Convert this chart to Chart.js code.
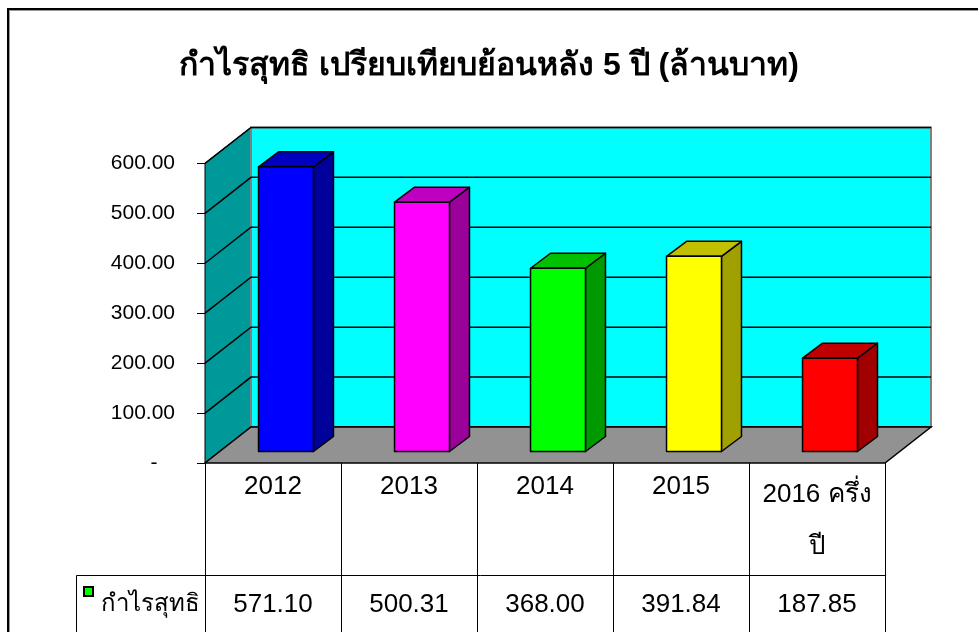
<!DOCTYPE html>
<html>
<head>
<meta charset="utf-8">
<script src="https://cdn.jsdelivr.net/npm/chart.js@4"></script>
<style>
  html, body { margin: 0; padding: 0; background: #fff; }
  #wrap { width: 978px; height: 632px; }
</style>
</head>
<body>
<div id="wrap"><canvas id="myChart"></canvas></div>
<script>
const years = ['2012', '2013', '2014', '2015', '2016 ครึ่งปี'];
const yearLines = [['2012'], ['2013'], ['2014'], ['2015'], ['2016 ครึ่ง', 'ปี']];
const profit = [571.10, 500.31, 368.00, 391.84, 187.85];
const seriesName = 'กำไรสุทธิ';
const titleText = 'กำไรสุทธิ เปรียบเทียบย้อนหลัง 5 ปี (ล้านบาท)';
const frontColors = ['#0000ff', '#ff00ff', '#00ff00', '#ffff00', '#ff0000'];
const topColors = ['#0000c0', '#c000c0', '#00c000', '#c0c000', '#c00000'];
const sideColors = ['#00009a', '#9a009a', '#009a00', '#a0a000', '#a00000'];

const FONT = 'Liberation Sans, Arial, DejaVu Sans, sans-serif';
// wall depth and bar placement inside it
const DX = 46, DY = 36;
const BX = 13, BY = 11;
const BDX = 20, BDY = 15;

function poly(ctx, pts, fill, stroke, lw) {
  ctx.beginPath();
  ctx.moveTo(pts[0][0], pts[0][1]);
  for (let i = 1; i < pts.length; i++) ctx.lineTo(pts[i][0], pts[i][1]);
  ctx.closePath();
  if (fill) { ctx.fillStyle = fill; ctx.fill(); }
  if (stroke) { ctx.strokeStyle = stroke; ctx.lineWidth = lw || 1; ctx.stroke(); }
}

const frame = {
  id: 'frame',
  beforeDraw(chart) {
    const ctx = chart.ctx;
    ctx.save();
    ctx.fillStyle = '#fff';
    ctx.fillRect(0, 0, chart.width, chart.height);
    ctx.fillStyle = '#000';
    ctx.fillRect(7, 8, chart.width - 7, 2);
    ctx.fillRect(7, 8, 2, chart.height - 8);
    ctx.fillStyle = '#999';
    ctx.fillRect(9, 10, chart.width - 9, 1);
    ctx.fillRect(9, 10, 1, chart.height - 10);
    ctx.restore();
  }
};

const walls = {
  id: 'walls',
  beforeDatasetsDraw(chart) {
    const {ctx, chartArea: a, scales: {y}} = chart;
    ctx.save();
    // side wall
    poly(ctx, [[a.left, a.top], [a.left + DX, a.top - DY], [a.left + DX, a.bottom - DY], [a.left, a.bottom]], '#009999', '#000', 1);
    // back wall
    poly(ctx, [[a.left + DX, a.top - DY], [a.right + DX, a.top - DY], [a.right + DX, a.bottom - DY], [a.left + DX, a.bottom - DY]], '#00ffff', '#808080', 2);
    // gridlines
    ctx.strokeStyle = '#000';
    ctx.lineWidth = 1.5;
    y.ticks.forEach(t => {
      const py = y.getPixelForValue(t.value);
      ctx.beginPath();
      ctx.moveTo(a.left, py);
      ctx.lineTo(a.left + DX, py - DY);
      ctx.lineTo(a.right + DX, py - DY);
      ctx.stroke();
    });
    // floor
    poly(ctx, [[a.left, a.bottom], [a.left + DX, a.bottom - DY], [a.right + DX, a.bottom - DY], [a.right, a.bottom]], '#929292', '#000', 1.5);
    ctx.restore();
  },
  afterDatasetsDraw(chart) {
    const ctx = chart.ctx;
    const meta = chart.getDatasetMeta(0);
    ctx.save();
    ctx.lineJoin = 'round';
    meta.data.forEach((el, i) => {
      const p = el.getProps(['x', 'y', 'base', 'width'], true);
      const l = p.x - p.width / 2 + BX, r = l + p.width;
      const t = p.y - BY, b = p.base - BY;
      poly(ctx, [[r, t], [r + BDX, t - BDY], [r + BDX, b - BDY], [r, b]], sideColors[i], '#000', 1.5);
      poly(ctx, [[l, t], [l + BDX, t - BDY], [r + BDX, t - BDY], [r, t]], topColors[i], '#000', 1.5);
      poly(ctx, [[l, t], [r, t], [r, b], [l, b]], frontColors[i], '#000', 1.5);
    });
    ctx.restore();
  }
};

const dataTable = {
  id: 'dataTable',
  afterDraw(chart) {
    const {ctx, chartArea: a, scales: {x}} = chart;
    const H = chart.height;
    const half = (x.getPixelForValue(1) - x.getPixelForValue(0)) / 2;
    const rowY = 575;
    ctx.save();
    ctx.strokeStyle = '#000';
    ctx.lineWidth = 1;
    for (let i = 0; i <= years.length; i++) {
      const px = Math.round(x.getPixelForValue(0) - half + i * half * 2) + 0.5;
      ctx.beginPath();
      ctx.moveTo(px, a.bottom);
      ctx.lineTo(px, H);
      ctx.stroke();
    }
    ctx.beginPath();
    ctx.moveTo(76.5, H);
    ctx.lineTo(76.5, rowY + 0.5);
    ctx.lineTo(a.right, rowY + 0.5);
    ctx.stroke();

    ctx.fillStyle = '#000';
    ctx.textAlign = 'center';
    ctx.textBaseline = 'middle';
    ctx.font = '26px ' + FONT;
    yearLines.forEach((lines, i) => {
      const cx = x.getPixelForValue(i);
      if (lines.length === 1) {
        ctx.fillText(lines[0], cx, 487);
      } else {
        ctx.fillText(lines[0], cx, 495);
        ctx.fillText(lines[1], cx, 547);
      }
      ctx.fillText(profit[i].toFixed(2), cx, 605);
    });

    // legend key
    ctx.fillStyle = '#00ff00';
    ctx.fillRect(84, 587, 9, 9);
    ctx.lineWidth = 2;
    ctx.strokeRect(84, 587, 9, 9);
    ctx.fillStyle = '#000';
    ctx.textAlign = 'left';
    ctx.font = '24px ' + FONT;
    ctx.fillText(seriesName, 101, 604);
    ctx.restore();
  }
};

const ctx = document.getElementById('myChart');

let chart = new Chart(ctx, {
  type: 'bar',
  data: {
    labels: years,
    datasets: [{
      label: seriesName,
      data: profit,
      backgroundColor: 'rgba(0,0,0,0)',
      borderWidth: 0,
      categoryPercentage: 1,
      barPercentage: 0.404
    }]
  },
  options: {
    responsive: true,
    maintainAspectRatio: false,
    animation: false,
    layout: { padding: { left: 0, right: 0, top: 0, bottom: 169 } },
    plugins: {
      legend: { display: false },
      tooltip: { enabled: false },
      title: {
        display: true,
        text: titleText,
        color: '#000',
        font: { family: FONT, size: 32, weight: 'bold' },
        padding: { top: 47, bottom: 78 }
      }
    },
    scales: {
      x: { display: false },
      y: {
        min: 0,
        max: 600,
        afterFit: s => { s.width = 205; },
        ticks: {
          stepSize: 100,
          color: '#000',
          padding: 22,
          font: { family: FONT, size: 21 },
          callback: v => v === 0 ? '-   ' : v.toFixed(2)
        },
        grid: { drawOnChartArea: false, color: '#000', tickLength: 8 },
        border: { display: true, color: '#000', width: 1 }
      },
      // empty right strip that holds the walls' depth and the margin
      yRight: {
        position: 'right',
        min: 0,
        max: 600,
        afterFit: s => { s.width = 93; },
        ticks: { display: false },
        grid: { display: false },
        border: { display: false }
      }
    }
  },
  plugins: [frame, walls, dataTable]
});
</script>
</body>
</html>
